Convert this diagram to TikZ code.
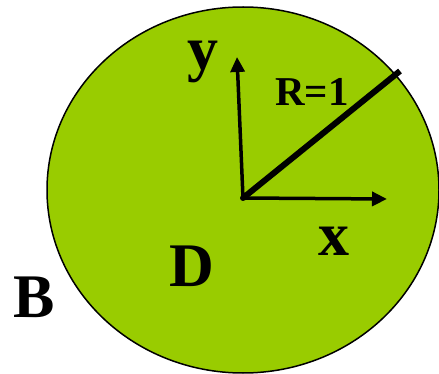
\documentclass[tikz,border=0pt]{standalone}
\usepackage{fontspec}
\setmainfont{Liberation Serif}
\usetikzlibrary{arrows.meta}
\definecolor{discgreen}{HTML}{99CC00}

\begin{document}
\begin{tikzpicture}[x=1pt,y=-1pt,
    lbl/.style={inner sep=0pt,font=\bfseries\fontsize{62}{62}\selectfont},
    axis/.style={line width=3.5pt,-{Triangle[length=15pt,width=14pt]}}]
    \useasboundingbox (0,0) rectangle (439,374);
    \filldraw[fill=discgreen,draw=black,line width=1.5pt] (243,190) ellipse [x radius=196,y radius=183];
    \coordinate (o) at (243,198);
    \coordinate (ytip) at (237,57);
    \coordinate (xtip) at (387,199);
    \coordinate (rim) at (400,71);
    \draw[axis] (o) -- (ytip);
    \draw[axis] (o) -- (xtip);
    \draw[line width=6pt] (o) -- (rim);
    \fill (o) circle (3pt);
    \node[lbl] (ylab) at (203,62) {y};
    \node[lbl] (xlab) at (334,241) {x};
    \node[lbl,font=\bfseries\fontsize{41}{41}\selectfont] (rlab) at (312,92) {R=1};
    \node[lbl] (dlab) at (192,266) {D};
    \node[lbl] (blab) at (34,297) {B};
\end{tikzpicture}
\end{document}
